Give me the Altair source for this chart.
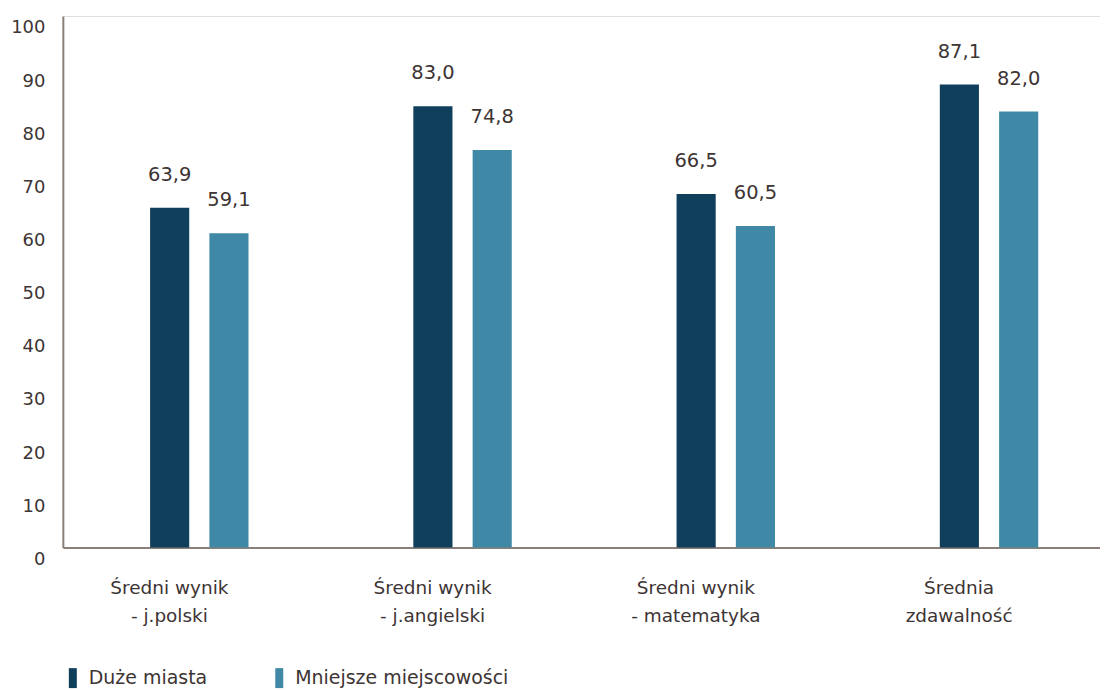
import altair as alt
import pandas as pd

categories = ["Średni wynik|- j.polski", "Średni wynik|- j.angielski",
              "Średni wynik|- matematyka", "Średnia|zdawalność"]
series_names = ["Duże miasta", "Mniejsze miejscowości"]
duze_miasta = [63.9, 83.0, 66.5, 87.1]
mniejsze = [59.1, 74.8, 60.5, 82.0]
y_ticks = [0, 10, 20, 30, 40, 50, 60, 70, 80, 90, 100]

rows = []
for c, a, b in zip(categories, duze_miasta, mniejsze):
    rows.append({"cat": c, "series": series_names[0], "value": a})
    rows.append({"cat": c, "series": series_names[1], "value": b})
df = pd.DataFrame(rows)

FONT = "DejaVu Sans"
TXT = "#3d3434"
AXC = "#8a8079"
colors = ["#103f5c", "#4089a6"]

x_enc = alt.X("cat:N", sort=categories, title=None,
              scale=alt.Scale(paddingInner=0.5, paddingOuter=0.22, align=0.61),
              axis=alt.Axis(labelAngle=0, ticks=False, domainColor=AXC, domainWidth=2,
                            labelExpr="split(datum.label, '|')", labelLineHeight=28,
                            labelPadding=31, labelOffset=-30,
                            labelFontSize=18.5, labelColor=TXT, labelFont=FONT))
xo_enc = alt.XOffset("series:N", sort=series_names,
                     scale=alt.Scale(paddingInner=0.34, paddingOuter=0.28))
y_enc = alt.Y("value:Q", title=None,
              scale=alt.Scale(domain=[0, 100], nice=False),
              axis=alt.Axis(values=y_ticks, grid=False, ticks=False, domainColor=AXC,
                            domainWidth=2, labelPadding=18, labelOffset=12,
                            labelFontSize=18, labelColor=TXT, labelFont=FONT))

bars = alt.Chart(df).mark_bar().encode(
    x=x_enc, xOffset=xo_enc, y=y_enc,
    color=alt.Color("series:N", sort=series_names,
                    scale=alt.Scale(domain=series_names, range=colors),
                    legend=alt.Legend(orient="none", legendX=0, legendY=654,
                                      direction="horizontal", title=None,
                                      symbolType="M-0.4,-1L0.4,-1L0.4,1L-0.4,1Z",
                                      symbolSize=400, symbolStrokeWidth=0,
                                      labelFontSize=19, labelColor=TXT, labelFont=FONT,
                                      labelOffset=6, columnPadding=62,
                                      labelLimit=400)),
)

labels = alt.Chart(df).transform_calculate(
    txt="replace(format(datum.value, '.1f'), '.', ',')"
).mark_text(dy=-33, fontSize=19.5, font=FONT, color=TXT, baseline="middle").encode(
    x=x_enc, xOffset=xo_enc, y=y_enc, text="txt:N"
)

chart = alt.layer(bars, labels).properties(
    width=1040, height=533,
    autosize=alt.AutoSizeParams(type="none"),
    padding={"left": 55, "top": 7, "right": 0, "bottom": 160},
).configure_view(stroke=None).configure(background="white")

chart.save("out.html", embed_options={"renderer": "svg", "actions": False})
